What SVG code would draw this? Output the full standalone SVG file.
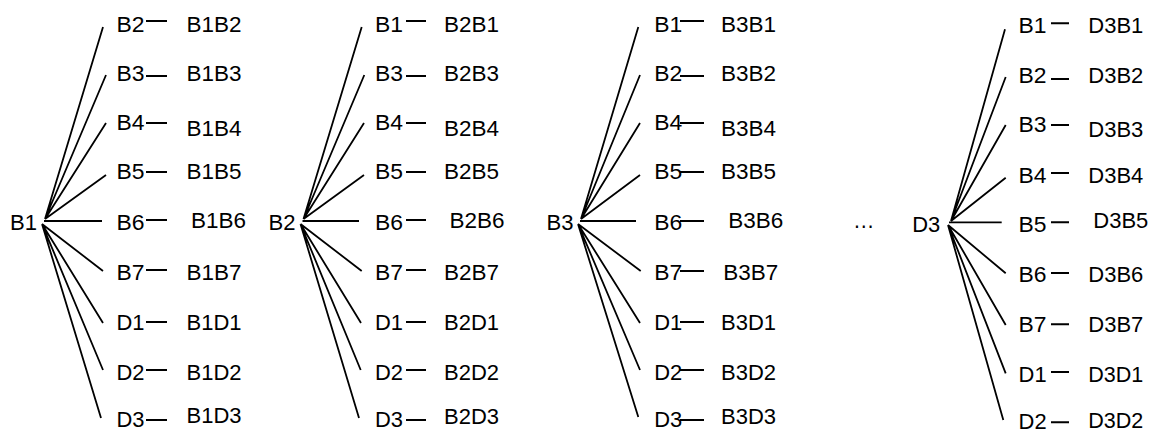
<svg xmlns="http://www.w3.org/2000/svg" width="1151" height="430" viewBox="0 0 1151 430">
<style>
.t{font-family:"Liberation Sans",Arial,sans-serif;font-size:21.5px;fill:#000}
.c{stroke:#000;stroke-width:1.8;fill:none}
.d{stroke:#000;stroke-width:2;fill:none}
</style>
<rect width="1151" height="430" fill="#fff"/>
<g id="connectors">
<g id="tree1-lines">
<path class="c" d="M45,219L103,27M45,219L106,75M45,219L106,123M45,219L106,175M44,221L102,221M42,224L103,271M42,224L103,323M42,224L103,370M42,224L101,418"/>
<path class="d" d="M146,21H167M146,76H167M146,123H167M146,172H167M146,220H167M146,270H167M146,322H167M146,370H167M146,420H167"/>
</g>
<g id="tree2-lines">
<path class="c" d="M303.5,219L361.7,27M303.5,219L364.3,75M303.5,219L364,123M303.5,219L364,175M302.5,221L359,221M300.5,224L361.7,271M300.5,224L361,323M300.5,224L360.7,370M300.5,224L359,418"/>
<path class="d" d="M406,21H426M406,76H426M406,123H426M406,172H426M406,220H426M406,270H426M406,322H426M406,370H426M406,420H426"/>
</g>
<g id="tree3-lines">
<path class="c" d="M581,219L638.3,27M581,219L640,75M581,219L640,123M581,219L640,175M580,221L636,221M578,224L640.7,271M578,224L640,323M578,224L640,370M578,224L638.3,417"/>
<path class="d" d="M680,21H704M680,76H704M680,123H704M680,172H704M680,221H704M680,271H704M680,322H704M680,370H704M680,420H704"/>
</g>
<g id="tree4-lines">
<path class="c" d="M951,221L1005,29.3M951,221L1005.7,77M951,221L1005.7,125M951,221L1005.7,177.7M949,222.3L1001.7,222.3M948,225L1005.7,273.3M948,225L1005.7,325M948,225L1005.7,373.3M948,225L1003.3,420"/>
<path class="d" d="M1051,23.3H1069M1051,79H1069M1051,125H1069M1051,173H1069M1051,222.3H1069M1051,273H1069M1051,324.3H1069M1051,372H1069M1051,422.3H1069"/>
</g>
</g>
<g id="tree1">
<g id="n-B1"><text class="t" x="10" y="230" textLength="27" lengthAdjust="spacingAndGlyphs">B1</text></g>
<g id="n-B1-B2"><text class="t" x="116.5" y="31.5" textLength="28" lengthAdjust="spacingAndGlyphs">B2</text><text class="t" x="186.5" y="31.5" textLength="55" lengthAdjust="spacingAndGlyphs">B1B2</text></g>
<g id="n-B1-B3"><text class="t" x="116.5" y="81" textLength="28" lengthAdjust="spacingAndGlyphs">B3</text><text class="t" x="186.5" y="81" textLength="55" lengthAdjust="spacingAndGlyphs">B1B3</text></g>
<g id="n-B1-B4"><text class="t" x="116.5" y="130" textLength="28" lengthAdjust="spacingAndGlyphs">B4</text><text class="t" x="186.5" y="136" textLength="55" lengthAdjust="spacingAndGlyphs">B1B4</text></g>
<g id="n-B1-B5"><text class="t" x="116.5" y="179" textLength="28" lengthAdjust="spacingAndGlyphs">B5</text><text class="t" x="186.5" y="179" textLength="55" lengthAdjust="spacingAndGlyphs">B1B5</text></g>
<g id="n-B1-B6"><text class="t" x="116.5" y="230" textLength="28" lengthAdjust="spacingAndGlyphs">B6</text><text class="t" x="191" y="228" textLength="55" lengthAdjust="spacingAndGlyphs">B1B6</text></g>
<g id="n-B1-B7"><text class="t" x="116.5" y="280" textLength="28" lengthAdjust="spacingAndGlyphs">B7</text><text class="t" x="186.5" y="280" textLength="55" lengthAdjust="spacingAndGlyphs">B1B7</text></g>
<g id="n-B1-D1"><text class="t" x="116.5" y="330" textLength="28" lengthAdjust="spacingAndGlyphs">D1</text><text class="t" x="186.5" y="330" textLength="55" lengthAdjust="spacingAndGlyphs">B1D1</text></g>
<g id="n-B1-D2"><text class="t" x="116.5" y="380" textLength="28" lengthAdjust="spacingAndGlyphs">D2</text><text class="t" x="186.5" y="380" textLength="55" lengthAdjust="spacingAndGlyphs">B1D2</text></g>
<g id="n-B1-D3"><text class="t" x="116.5" y="427" textLength="28" lengthAdjust="spacingAndGlyphs">D3</text><text class="t" x="186.5" y="423" textLength="55" lengthAdjust="spacingAndGlyphs">B1D3</text></g>
</g>
<g id="tree2">
<g id="n-B2"><text class="t" x="268.5" y="230" textLength="27" lengthAdjust="spacingAndGlyphs">B2</text></g>
<g id="n-B2-B1"><text class="t" x="375" y="31.5" textLength="28" lengthAdjust="spacingAndGlyphs">B1</text><text class="t" x="444" y="31.5" textLength="55" lengthAdjust="spacingAndGlyphs">B2B1</text></g>
<g id="n-B2-B3"><text class="t" x="375" y="81" textLength="28" lengthAdjust="spacingAndGlyphs">B3</text><text class="t" x="444" y="81" textLength="55" lengthAdjust="spacingAndGlyphs">B2B3</text></g>
<g id="n-B2-B4"><text class="t" x="375" y="130" textLength="28" lengthAdjust="spacingAndGlyphs">B4</text><text class="t" x="444" y="136" textLength="55" lengthAdjust="spacingAndGlyphs">B2B4</text></g>
<g id="n-B2-B5"><text class="t" x="375" y="179" textLength="28" lengthAdjust="spacingAndGlyphs">B5</text><text class="t" x="444" y="179" textLength="55" lengthAdjust="spacingAndGlyphs">B2B5</text></g>
<g id="n-B2-B6"><text class="t" x="375" y="230" textLength="28" lengthAdjust="spacingAndGlyphs">B6</text><text class="t" x="449.5" y="228" textLength="55" lengthAdjust="spacingAndGlyphs">B2B6</text></g>
<g id="n-B2-B7"><text class="t" x="375" y="280" textLength="28" lengthAdjust="spacingAndGlyphs">B7</text><text class="t" x="444" y="280" textLength="55" lengthAdjust="spacingAndGlyphs">B2B7</text></g>
<g id="n-B2-D1"><text class="t" x="375" y="330" textLength="28" lengthAdjust="spacingAndGlyphs">D1</text><text class="t" x="444" y="330" textLength="55" lengthAdjust="spacingAndGlyphs">B2D1</text></g>
<g id="n-B2-D2"><text class="t" x="375" y="380" textLength="28" lengthAdjust="spacingAndGlyphs">D2</text><text class="t" x="444" y="380" textLength="55" lengthAdjust="spacingAndGlyphs">B2D2</text></g>
<g id="n-B2-D3"><text class="t" x="375" y="427" textLength="28" lengthAdjust="spacingAndGlyphs">D3</text><text class="t" x="444" y="424" textLength="55" lengthAdjust="spacingAndGlyphs">B2D3</text></g>
</g>
<g id="tree3">
<g id="n-B3"><text class="t" x="546.5" y="230" textLength="27" lengthAdjust="spacingAndGlyphs">B3</text></g>
<g id="n-B3-B1"><text class="t" x="654.3" y="31.5" textLength="28" lengthAdjust="spacingAndGlyphs">B1</text><text class="t" x="721" y="31.5" textLength="55" lengthAdjust="spacingAndGlyphs">B3B1</text></g>
<g id="n-B3-B2"><text class="t" x="654.3" y="81" textLength="28" lengthAdjust="spacingAndGlyphs">B2</text><text class="t" x="721" y="81" textLength="55" lengthAdjust="spacingAndGlyphs">B3B2</text></g>
<g id="n-B3-B4"><text class="t" x="654.3" y="130" textLength="28" lengthAdjust="spacingAndGlyphs">B4</text><text class="t" x="721" y="136" textLength="55" lengthAdjust="spacingAndGlyphs">B3B4</text></g>
<g id="n-B3-B5"><text class="t" x="654.3" y="179" textLength="28" lengthAdjust="spacingAndGlyphs">B5</text><text class="t" x="721" y="179" textLength="55" lengthAdjust="spacingAndGlyphs">B3B5</text></g>
<g id="n-B3-B6"><text class="t" x="654.3" y="230" textLength="28" lengthAdjust="spacingAndGlyphs">B6</text><text class="t" x="728.3" y="228" textLength="55" lengthAdjust="spacingAndGlyphs">B3B6</text></g>
<g id="n-B3-B7"><text class="t" x="654.3" y="280" textLength="28" lengthAdjust="spacingAndGlyphs">B7</text><text class="t" x="723.3" y="280" textLength="55" lengthAdjust="spacingAndGlyphs">B3B7</text></g>
<g id="n-B3-D1"><text class="t" x="654.3" y="330" textLength="28" lengthAdjust="spacingAndGlyphs">D1</text><text class="t" x="721" y="330" textLength="55" lengthAdjust="spacingAndGlyphs">B3D1</text></g>
<g id="n-B3-D2"><text class="t" x="654.3" y="380" textLength="28" lengthAdjust="spacingAndGlyphs">D2</text><text class="t" x="721" y="380" textLength="55" lengthAdjust="spacingAndGlyphs">B3D2</text></g>
<g id="n-B3-D3"><text class="t" x="654.3" y="427" textLength="28" lengthAdjust="spacingAndGlyphs">D3</text><text class="t" x="721" y="424" textLength="55" lengthAdjust="spacingAndGlyphs">B3D3</text></g>
</g>
<g id="ellipsis"><text class="t" x="853" y="228">…</text></g>
<g id="tree4">
<g id="n-D3"><text class="t" x="912.3" y="231.7" textLength="28" lengthAdjust="spacingAndGlyphs">D3</text></g>
<g id="n-D3-B1"><text class="t" x="1018.6" y="33.3" textLength="28" lengthAdjust="spacingAndGlyphs">B1</text><text class="t" x="1088.3" y="33.3" textLength="55" lengthAdjust="spacingAndGlyphs">D3B1</text></g>
<g id="n-D3-B2"><text class="t" x="1018.6" y="83.3" textLength="28" lengthAdjust="spacingAndGlyphs">B2</text><text class="t" x="1088.3" y="83.3" textLength="55" lengthAdjust="spacingAndGlyphs">D3B2</text></g>
<g id="n-D3-B3"><text class="t" x="1018.6" y="131.7" textLength="28" lengthAdjust="spacingAndGlyphs">B3</text><text class="t" x="1088.3" y="136.7" textLength="55" lengthAdjust="spacingAndGlyphs">D3B3</text></g>
<g id="n-D3-B4"><text class="t" x="1018.6" y="182.7" textLength="28" lengthAdjust="spacingAndGlyphs">B4</text><text class="t" x="1088.3" y="182.7" textLength="55" lengthAdjust="spacingAndGlyphs">D3B4</text></g>
<g id="n-D3-B5"><text class="t" x="1018.6" y="231.7" textLength="28" lengthAdjust="spacingAndGlyphs">B5</text><text class="t" x="1093.3" y="228.3" textLength="55" lengthAdjust="spacingAndGlyphs">D3B5</text></g>
<g id="n-D3-B6"><text class="t" x="1018.6" y="281.7" textLength="28" lengthAdjust="spacingAndGlyphs">B6</text><text class="t" x="1088.3" y="281.7" textLength="55" lengthAdjust="spacingAndGlyphs">D3B6</text></g>
<g id="n-D3-B7"><text class="t" x="1018.6" y="331.7" textLength="28" lengthAdjust="spacingAndGlyphs">B7</text><text class="t" x="1088.3" y="331.7" textLength="55" lengthAdjust="spacingAndGlyphs">D3B7</text></g>
<g id="n-D3-D1"><text class="t" x="1018.6" y="381.7" textLength="28" lengthAdjust="spacingAndGlyphs">D1</text><text class="t" x="1088.3" y="381.7" textLength="55" lengthAdjust="spacingAndGlyphs">D3D1</text></g>
<g id="n-D3-D2"><text class="t" x="1018.6" y="429" textLength="28" lengthAdjust="spacingAndGlyphs">D2</text><text class="t" x="1088.3" y="427.5" textLength="55" lengthAdjust="spacingAndGlyphs">D3D2</text></g>
</g>
</svg>
